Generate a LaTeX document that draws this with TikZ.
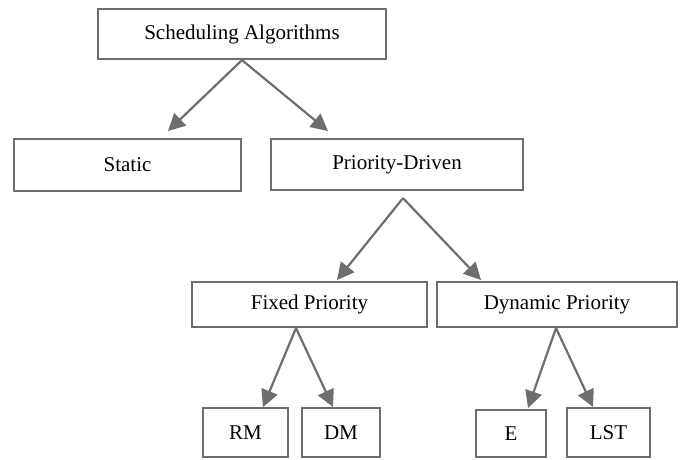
\documentclass[tikz,border=0pt]{standalone}
\usepackage{fontspec}
\setmainfont{Liberation Serif}
\usetikzlibrary{arrows.meta}
\definecolor{edgegray}{HTML}{6E6E6E}
\begin{document}
\begin{tikzpicture}[x=1pt,y=-1pt,
  box/.style={draw=edgegray, line width=2.2pt, rectangle, inner sep=0pt, fill=white,
    font=\fontsize{21}{25}\selectfont, text=black},
  arr/.style={draw=edgegray, line width=2.2pt, -{Triangle[length=17pt,width=17pt]}}]
\useasboundingbox[fill=white] (0,0) rectangle (685,459);
\node[box, minimum width=288pt, minimum height=50pt] (top) at (242,34) {Scheduling Algorithms};
\node[box, minimum width=227pt, minimum height=52pt] (static) at (127.5,165) {Static};
\node[box, minimum width=252pt, minimum height=51pt] (pd) at (397,164.5) {Priority-Driven};
\node[box, minimum width=235pt, minimum height=45pt] (fixed) at (309.5,304.5) {Fixed Priority};
\node[box, minimum width=240pt, minimum height=45pt] (dyn) at (557,304.5) {Dynamic Priority};
\node[box, minimum width=85pt, minimum height=49pt] (rm) at (245.5,432.5) {RM};
\node[box, minimum width=78pt, minimum height=49pt] (dm) at (341,432.5) {DM};
\node[box, minimum width=70pt, minimum height=47pt] (e) at (511,433.5) {E};
\node[box, minimum width=83pt, minimum height=49pt] (lst) at (608.5,432.5) {LST};
% arrow tips
\coordinate (tStatic) at (168,131);
\coordinate (tPd) at (328,131);
\coordinate (tFixed) at (337,280);
\coordinate (tDyn) at (481,280);
\coordinate (tRm) at (263,407);
\coordinate (tDm) at (333,407);
\coordinate (tE) at (528,408);
\coordinate (tLst) at (593,407);
% connectors
\draw[arr] (top.south) -- (tStatic);
\draw[arr] (top.south) -- (tPd);
\draw[arr] ([xshift=6pt,yshift=-7pt]pd.south) -- (tFixed);
\draw[arr] ([xshift=6pt,yshift=-7pt]pd.south) -- (tDyn);
\draw[arr] ([xshift=-13.5pt]fixed.south) -- (tRm);
\draw[arr] ([xshift=-13.5pt]fixed.south) -- (tDm);
\draw[arr] ([xshift=-1pt]dyn.south) -- (tE);
\draw[arr] ([xshift=-1pt]dyn.south) -- (tLst);
\end{tikzpicture}
\end{document}
